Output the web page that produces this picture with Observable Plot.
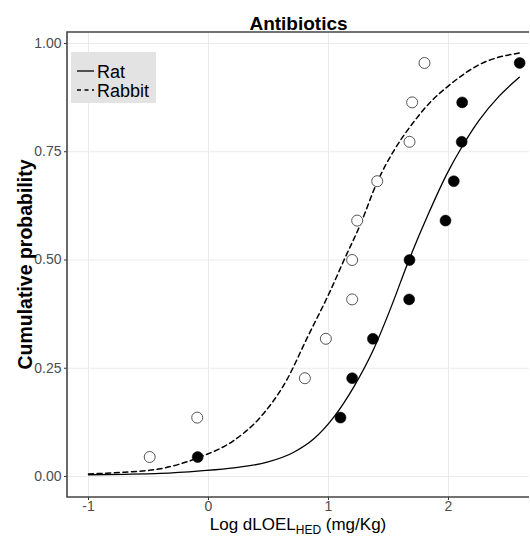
<!DOCTYPE html>
<html><head><meta charset="utf-8">
<script src="https://cdn.jsdelivr.net/npm/d3@7"></script>
<script src="https://cdn.jsdelivr.net/npm/@observablehq/plot@0.6"></script>
<style>
body{margin:0;background:#fff;font-family:"Liberation Sans",Arial,sans-serif;}
</style></head>
<body><div id="chart"></div>
<script>
// Observed points (cumulative probability vs log dLOEL_HED)
const ratX = [-0.09, 1.10, 1.197, 1.37, 1.672, 1.675, 1.975, 2.044, 2.11, 2.114, 2.593];
const ratP = [0.045, 0.136, 0.227, 0.318, 0.409, 0.5, 0.591, 0.682, 0.773, 0.864, 0.955];
const rabbitX = [-0.49, -0.094, 0.803, 0.978, 1.197, 1.197, 1.239, 1.406, 1.675, 1.697, 1.80];
const rabbitP = [0.045, 0.136, 0.227, 0.318, 0.409, 0.5, 0.591, 0.682, 0.773, 0.864, 0.955];
// Fitted curves
const ratCurveX = [-1, -0.7, -0.4, -0.067, 0.211, 0.489, 0.711, 0.878, 1.044, 1.211, 1.378, 1.52, 1.669, 1.83, 1.989, 2.12, 2.253, 2.42, 2.59];
const ratCurveP = [0.004, 0.005, 0.007, 0.013, 0.02, 0.033, 0.056, 0.087, 0.137, 0.207, 0.295, 0.39, 0.499, 0.605, 0.7, 0.765, 0.822, 0.878, 0.922];
const rabbitCurveX = [-1, -0.7, -0.4, -0.07, 0.21, 0.419, 0.65, 0.822, 1.017, 1.128, 1.267, 1.406, 1.55, 1.697, 1.85, 1.99, 2.27, 2.59];
const rabbitCurveP = [0.006, 0.01, 0.018, 0.045, 0.083, 0.133, 0.222, 0.32, 0.43, 0.499, 0.583, 0.68, 0.755, 0.814, 0.865, 0.9, 0.953, 0.978];
const xTicks = [-1, 0, 1, 2];
const xTickLabels = ["-1", "0", "1", "2"];
const yTicks = [0, 0.25, 0.5, 0.75, 1];
const yTickLabels = ["0.00", "0.25", "0.50", "0.75", "1.00"];
const seriesNames = ["Rat", "Rabbit"];
const title = "Antibiotics";

const rat = ratX.map((x, i) => ({x, p: ratP[i]}));
const rabbit = rabbitX.map((x, i) => ({x, p: rabbitP[i]}));
const ratCurve = ratCurveX.map((x, i) => ({x, p: ratCurveP[i]}));
const rabbitCurve = rabbitCurveX.map((x, i) => ({x, p: rabbitCurveP[i]}));

const W = 530, H = 536, mL = 67, mT = 32, mB = 39, mR = 1;
const plot = Plot.plot({
  width: W, height: H,
  marginLeft: mL, marginTop: mT, marginBottom: mB, marginRight: mR,
  style: {fontFamily: '"Liberation Sans", Arial, sans-serif', background: "#fff", overflow: "visible"},
  x: {domain: [-1.175, 2.675]},
  y: {domain: [-0.0485, 1.0254]},
  marks: [
    Plot.gridX(xTicks, {stroke: "#ebebeb", strokeOpacity: 1, strokeWidth: 1}),
    Plot.gridY(yTicks, {stroke: "#ebebeb", strokeOpacity: 1, strokeWidth: 1}),
    Plot.axisX({ticks: xTicks, tickSize: 3, tickPadding: 1, stroke: "#333", color: "#4d4d4d", fontSize: 14, label: null,
      tickFormat: d => xTickLabels[xTicks.indexOf(d)]}),
    Plot.axisY({ticks: yTicks, tickSize: 3, tickPadding: 3, stroke: "#333", color: "#4d4d4d", fontSize: 14, label: null,
      tickFormat: d => yTickLabels[yTicks.indexOf(d)]}),
    Plot.line(ratCurve, {x: "x", y: "p", curve: "monotone-x", stroke: "#000", strokeWidth: 1.3}),
    Plot.line(rabbitCurve, {x: "x", y: "p", curve: "monotone-x", stroke: "#000", strokeWidth: 1.5, strokeDasharray: "5,3.6"}),
    Plot.dot(rabbit, {x: "x", y: "p", r: 5.5, fill: "#fff", stroke: "#555", strokeWidth: 1}),
    Plot.dot(rat, {x: "x", y: "p", r: 5.5, fill: "#000", stroke: "#000", strokeWidth: 0.5}),
    Plot.text([title], {frameAnchor: "top", dy: -16, text: d => d, fontSize: 19, fontWeight: "bold", fill: "#000"})
  ]
});

const svg = d3.select(plot);
// Panel border: left, top, bottom
const x0 = mL, x1 = W - mR, y0 = mT, y1 = H - mB;
svg.append("path").attr("d", `M${x1},${y0}H${x0}V${y1}H${x1}`)
  .attr("fill", "none").attr("stroke", "#444").attr("stroke-width", 1.6);

// Y axis title
svg.append("text").attr("transform", `translate(32,${(y0 + y1) / 2}) rotate(-90)`)
  .attr("text-anchor", "middle").attr("font-size", 19.5).attr("font-weight", "bold").attr("fill", "#000")
  .text("Cumulative probability");

// X axis title with subscript
const xt = svg.append("text").attr("x", (x0 + x1) / 2).attr("y", 530)
  .attr("text-anchor", "middle").attr("font-size", 17).attr("fill", "#000");
xt.append("tspan").text("Log dLOEL");
xt.append("tspan").attr("font-size", 12).attr("dy", 4).text("HED");
xt.append("tspan").attr("dy", -4).text(" (mg/Kg)");

// Legend
const lg = svg.append("g").attr("text-anchor", "start");
lg.append("rect").attr("x", 71).attr("y", 52).attr("width", 85).attr("height", 51).attr("fill", "#e3e3e3");
lg.append("line").attr("x1", 77).attr("x2", 94).attr("y1", 71).attr("y2", 71).attr("stroke", "#000").attr("stroke-width", 1.3);
lg.append("line").attr("x1", 77).attr("x2", 94).attr("y1", 90).attr("y2", 90).attr("stroke", "#000").attr("stroke-width", 1.3).attr("stroke-dasharray", "4,3.5");
lg.append("text").attr("x", 97).attr("y", 78).attr("font-size", 18).attr("fill", "#000").text(seriesNames[0]);
lg.append("text").attr("x", 97).attr("y", 97).attr("font-size", 18).attr("fill", "#000").text(seriesNames[1]);

document.getElementById("chart").appendChild(plot);
</script></body></html>
